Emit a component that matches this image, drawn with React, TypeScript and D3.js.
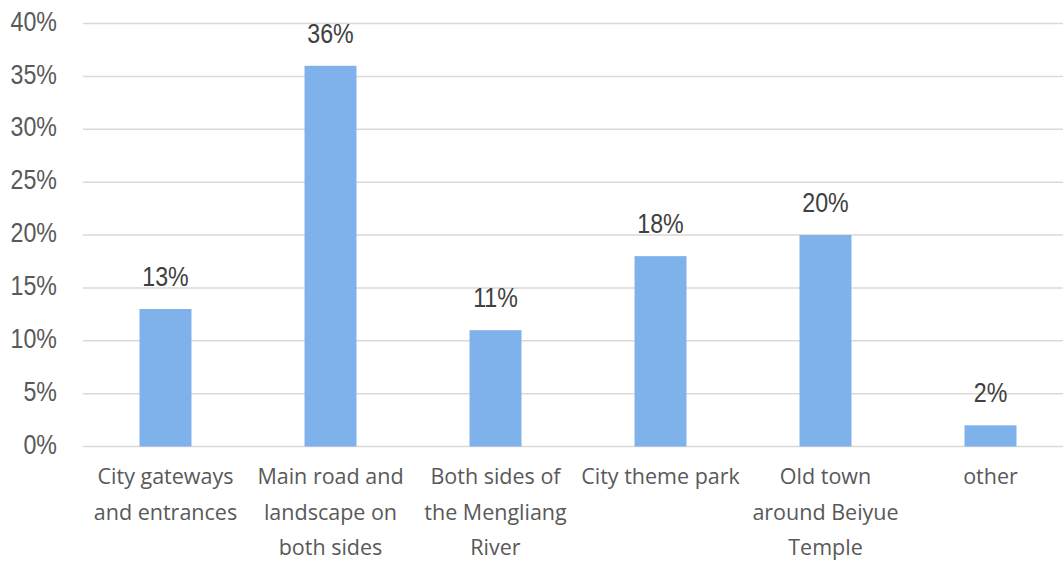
import React from "react";
import * as d3 from "d3";

const categories: string[][] = [
  ["City gateways", "and entrances"],
  ["Main road and", "landscape on", "both sides"],
  ["Both sides of", "the Mengliang", "River"],
  ["City theme park"],
  ["Old town", "around Beiyue", "Temple"],
  ["other"],
];
const values: number[] = [0.13, 0.36, 0.11, 0.18, 0.2, 0.02];
const yTicks: number[] = [0, 0.05, 0.1, 0.15, 0.2, 0.25, 0.3, 0.35, 0.4];

const W = 1063;
const H = 561;
const left = 83;
const right = 1073;
const top = 23.5;
const bottom = 446.5;

export default function App() {
  const ids = categories.map((_, i) => String(i));
  const x = d3.scaleBand<string>().domain(ids).range([left, right]).paddingInner(0.685).paddingOuter(0.3425);
  const y = d3.scaleLinear().domain([0, 0.4]).range([bottom, top]);
  const fmt = d3.format(".0%");
  const numFont = "'Liberation Sans', Arial, sans-serif";
  const catFont = "'Open Sans', Lato, sans-serif";
  const sx = 0.86;
  return (
    <svg width={W} height={H} style={{ position: "absolute", left: 0, top: 0, background: "#fff" }}>
      {yTicks.map((t) => (
        <g key={t}>
          <line x1={left} x2={W} y1={y(t)} y2={y(t)} stroke="#d9d9d9" strokeWidth={1.5} />
          <g transform={`translate(57,${y(t)}) scale(${sx},1)`}>
            <text x={0} y={0} textAnchor="end" dominantBaseline="middle" fontFamily={numFont} fontSize={27} fill="#595959">
              {fmt(t)}
            </text>
          </g>
        </g>
      ))}
      {values.map((v, i) => (
        <g key={i}>
          <rect x={x(String(i))} y={y(v)} width={x.bandwidth()} height={y(0) - y(v)} fill="#7fb1ea" />
          <g transform={`translate(${(x(String(i)) as number) + x.bandwidth() / 2},${y(v) - 23}) scale(${sx},1)`}>
            <text x={0} y={0} textAnchor="middle" fontFamily={numFont} fontSize={27} fill="#404040">
              {fmt(v)}
            </text>
          </g>
        </g>
      ))}
      {categories.map((lines, i) => (
        <text key={i} textAnchor="middle" fontFamily={catFont} fontSize={21.5} fill="#595959">
          {lines.map((l, j) => (
            <tspan key={j} x={(x(String(i)) as number) + x.bandwidth() / 2} y={484 + j * 35.5}>
              {l}
            </tspan>
          ))}
        </text>
      ))}
    </svg>
  );
}
